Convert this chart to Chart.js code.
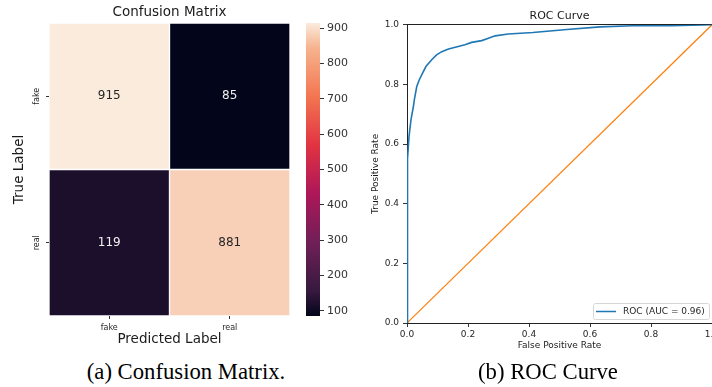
<!DOCTYPE html>
<html>
<head>
<meta charset="utf-8">
<script src="https://cdn.jsdelivr.net/npm/chart.js@4/dist/chart.umd.min.js"></script>
<style>
html,body{margin:0;padding:0;overflow:hidden;background:#fff;width:712px;height:387px;}
canvas{position:absolute;}
.cap{position:absolute;top:358px;font-family:'Liberation Serif','DejaVu Serif',serif;font-size:22.7px;color:#000;white-space:nowrap;transform:translateX(-50%);line-height:28px;}
</style>
</head>
<body>
<canvas id="cm" width="300" height="350" style="left:0;top:0;"></canvas>
<canvas id="cb" width="70" height="350" style="left:300px;top:0;"></canvas>
<canvas id="roc" width="372" height="355" style="left:360px;top:0;"></canvas>
<div class="cap" style="left:186px;">(a) Confusion Matrix.</div>
<div class="cap" style="left:548px;">(b) ROC Curve</div>
<script>
// ---------- data ----------
const cmLabels = ['fake', 'real'];          // predicted (x) and true (y) classes
const cmRowFake = [915, 85];                // true = fake
const cmRowReal = [119, 881];               // true = real
const cbTicks = [100, 200, 300, 400, 500, 600, 700, 800, 900];
const rocFpr = [0, 0, 0.002, 0.003, 0.0066, 0.013, 0.021, 0.024, 0.032, 0.040, 0.051, 0.062, 0.081, 0.097, 0.114, 0.136, 0.168, 0.19, 0.212, 0.245, 0.267, 0.289, 0.332, 0.413, 0.524, 0.633, 0.74, 0.868, 1.0];
const rocTpr = [0, 0.25, 0.37, 0.55, 0.625, 0.681, 0.726, 0.748, 0.793, 0.815, 0.838, 0.860, 0.883, 0.899, 0.910, 0.919, 0.927, 0.933, 0.941, 0.947, 0.955, 0.963, 0.969, 0.974, 0.984, 0.993, 0.997, 0.997, 1.0];
const diagFpr = [0, 1];
const diagTpr = [0, 1];
const rocLabel = 'ROC (AUC = 0.96)';
const xTicksRoc = [0, 0.2, 0.4, 0.6, 0.8, 1.0];

Chart.defaults.font.family = "'DejaVu Sans', sans-serif";

// rocket colormap
const rocketStops = [
  [0.000, [3, 5, 26]],
  [0.083, [53, 25, 62]],
  [0.250, [112, 31, 87]],
  [0.417, [173, 23, 89]],
  [0.583, [225, 51, 66]],
  [0.750, [243, 118, 81]],
  [0.917, [246, 180, 143]],
  [1.000, [250, 235, 221]]
];
function rocketRGB(t) {
  t = Math.max(0, Math.min(1, t));
  for (let i = 1; i < rocketStops.length; i++) {
    const [t1, c1] = rocketStops[i];
    const [t0, c0] = rocketStops[i - 1];
    if (t <= t1) {
      const f = (t - t0) / (t1 - t0);
      return c0.map((v, k) => Math.round(v + (c1[k] - v) * f));
    }
  }
  return rocketStops[rocketStops.length - 1][1];
}
const allVals = cmRowFake.concat(cmRowReal);
const vMin = Math.min(...allVals), vMax = Math.max(...allVals);
function cellColor(v) { const c = rocketRGB((v - vMin) / (vMax - vMin)); return `rgb(${c[0]},${c[1]},${c[2]})`; }
function textColor(v) { const c = rocketRGB((v - vMin) / (vMax - vMin)); const l = 0.2126*c[0]+0.7152*c[1]+0.0722*c[2]; return l > 128 ? '#262626' : '#f0f0f0'; }

// ---------- confusion matrix ----------
const cellText = {
  id: 'cellText',
  afterDatasetsDraw(chart) {
    const ctx = chart.ctx;
    ctx.save();
    ctx.font = "12px 'DejaVu Sans'";
    ctx.textAlign = 'center';
    ctx.textBaseline = 'middle';
    chart.data.datasets.forEach((ds, di) => {
      chart.getDatasetMeta(di).data.forEach((el, i) => {
        const v = ds.values[i];
        ctx.fillStyle = textColor(v);
        ctx.fillText(String(v), el.x, (el.y + el.base) / 2);
      });
    });
    // rotated y tick labels
    const ys = chart.scales.y;
    ctx.font = "8px 'DejaVu Sans'";
    ctx.fillStyle = '#262626';
    [[1.5, cmLabels[0]], [0.5, cmLabels[1]]].forEach(([v, lab]) => {
      ctx.save();
      ctx.translate(37, ys.getPixelForValue(v));
      ctx.rotate(-Math.PI / 2);
      ctx.fillText(lab, 0, 0);
      ctx.restore();
    });
    ctx.restore();
  }
};

new Chart(document.getElementById('cm'), {
  type: 'bar',
  data: {
    labels: cmLabels,
    datasets: [
      { label: 'real', data: cmRowReal.map(() => 1), values: cmRowReal, backgroundColor: cmRowReal.map(cellColor), stack: 's' },
      { label: 'fake', data: cmRowFake.map(() => 1), values: cmRowFake, backgroundColor: cmRowFake.map(cellColor), stack: 's' }
    ]
  },
  options: {
    responsive: false, animation: false, devicePixelRatio: 1,
    layout: { padding: { left: 0, right: 10, top: 0, bottom: 0 } },
    datasets: { bar: { barPercentage: 1, categoryPercentage: 1, borderColor: '#ffffff', borderWidth: 1, borderSkipped: false } },
    plugins: {
      legend: { display: false }, tooltip: { enabled: false },
      title: { display: true, text: 'Confusion Matrix', fullSize: false, color: '#1a1a1a', font: { size: 13.5, weight: 'normal' }, padding: { top: 4, bottom: 2.8 } }
    },
    scales: {
      x: {
        stacked: true,
        grid: { display: true, offset: false, drawOnChartArea: false, drawTicks: true, tickLength: 3, color: '#333' },
        border: { display: false },
        ticks: { font: { size: 8 }, color: '#262626', padding: 4 },
        title: { display: true, text: 'Predicted Label', color: '#1a1a1a', font: { size: 13.5 }, padding: { top: 0, bottom: 2 } },
        afterFit(s) { s.height = 34; s.paddingLeft = 0; s.paddingRight = 0; }
      },
      y: {
        stacked: true, min: 0, max: 2,
        afterBuildTicks(s) { s.ticks = [{ value: 0.5 }, { value: 1.5 }]; },
        grid: { display: true, drawOnChartArea: false, drawTicks: true, tickLength: 3, color: '#333' },
        border: { display: false },
        ticks: { display: false },
        title: { display: true, text: 'True Label', color: '#1a1a1a', font: { size: 13.5 }, padding: { top: 11.4, bottom: 0 } },
        afterFit(s) { s.width = 49; s.paddingTop = 0; s.paddingBottom = 0; }
      }
    }
  },
  plugins: [cellText]
});

// ---------- colorbar ----------
new Chart(document.getElementById('cb'), {
  type: 'bar',
  data: {
    labels: [''],
    datasets: [{
      data: [[vMin, vMax]],
      borderWidth: 0,
      backgroundColor(c) {
        const chart = c.chart;
        if (!chart.chartArea) return '#000';
        const y = chart.scales.y;
        const g = chart.ctx.createLinearGradient(0, y.getPixelForValue(vMin), 0, y.getPixelForValue(vMax));
        rocketStops.forEach(([t, col]) => g.addColorStop(t, `rgb(${col[0]},${col[1]},${col[2]})`));
        return g;
      }
    }]
  },
  options: {
    responsive: false, animation: false, devicePixelRatio: 1,
    layout: { padding: { left: 6, right: 0, top: 23, bottom: 34 } },
    datasets: { bar: { barPercentage: 1, categoryPercentage: 1 } },
    plugins: { legend: { display: false }, tooltip: { enabled: false } },
    scales: {
      x: { display: false },
      y: {
        position: 'right', min: vMin, max: vMax,
        afterBuildTicks(s) { s.ticks = cbTicks.map(v => ({ value: v })); },
        grid: { display: true, drawOnChartArea: false, drawTicks: true, tickLength: 4, color: '#333' },
        border: { display: false },
        ticks: { font: { size: 11 }, color: '#333', padding: 3 },
        afterFit(s) { s.width = 50; s.paddingTop = 0; s.paddingBottom = 0; }
      }
    }
  }
});

// ---------- ROC ----------
const rocLegend = {
  id: 'rocLegend',
  afterDraw(chart) {
    const ctx = chart.ctx, a = chart.chartArea;
    const ds = chart.data.datasets[0];
    const w = 116, h = 16;
    const x0 = a.right - 3 - w, y0 = a.bottom - 4 - h;
    ctx.save();
    ctx.beginPath();
    if (ctx.roundRect) ctx.roundRect(x0 + 0.5, y0 + 0.5, w, h, 2); else ctx.rect(x0 + 0.5, y0 + 0.5, w, h);
    ctx.fillStyle = 'rgba(255,255,255,0.8)';
    ctx.fill();
    ctx.strokeStyle = '#d6d6d6';
    ctx.lineWidth = 1;
    ctx.stroke();
    ctx.beginPath();
    ctx.moveTo(x0 + 3, y0 + h / 2 + 0.5);
    ctx.lineTo(x0 + 23, y0 + h / 2 + 0.5);
    ctx.strokeStyle = ds.borderColor;
    ctx.lineWidth = 1.5;
    ctx.stroke();
    ctx.font = "9px 'DejaVu Sans'";
    ctx.fillStyle = '#262626';
    ctx.textAlign = 'left';
    ctx.textBaseline = 'middle';
    ctx.fillText(ds.label, x0 + 30, y0 + h / 2 + 0.5);
    ctx.restore();
  }
};

new Chart(document.getElementById('roc'), {
  type: 'scatter',
  data: {
    datasets: [
      { label: rocLabel, data: rocFpr.map((x, i) => ({ x, y: rocTpr[i] })), showLine: true, borderColor: '#1f77b4', borderWidth: 1.6, pointRadius: 0, fill: false, tension: 0 },
      { label: '', data: diagFpr.map((x, i) => ({ x, y: diagTpr[i] })), showLine: true, borderColor: '#ff7f0e', borderWidth: 1.2, pointRadius: 0, fill: false }
    ]
  },
  options: {
    responsive: false, animation: false, devicePixelRatio: 1,
    layout: { padding: { left: 0, right: 20, top: 0, bottom: 0 } },
    plugins: {
      legend: { display: false }, tooltip: { enabled: false },
      title: { display: true, text: 'ROC Curve', fullSize: false, color: '#1a1a1a', font: { size: 11, weight: 'normal' }, padding: { top: 9.4, bottom: 2.2 } }
    },
    scales: {
      x: {
        type: 'linear', min: 0, max: 1,
        afterBuildTicks(s) { s.ticks = xTicksRoc.map(v => ({ value: v })); },
        ticks: { font: { size: 9 }, color: '#262626', padding: 2, callback: v => v.toFixed(1), maxRotation: 0 },
        grid: { drawOnChartArea: false, drawTicks: true, tickLength: 4, color: '#333' },
        border: { color: '#222', width: 1 },
        title: { display: true, text: 'False Positive Rate', color: '#1a1a1a', font: { size: 9 }, padding: { top: 0, bottom: 3.6 } },
        afterFit(s) { s.height = 32; s.paddingLeft = 0; s.paddingRight = 0; }
      },
      y: {
        type: 'linear', min: 0, max: 1,
        afterBuildTicks(s) { s.ticks = xTicksRoc.map(v => ({ value: v })); },
        ticks: { font: { size: 9 }, color: '#262626', padding: 4, callback: v => v.toFixed(1) },
        grid: { drawOnChartArea: false, drawTicks: true, tickLength: 4, color: '#333' },
        border: { color: '#222', width: 1 },
        title: { display: true, text: 'True Positive Rate', color: '#1a1a1a', font: { size: 9 }, padding: { top: 10.6, bottom: 0 } },
        afterFit(s) { s.width = 47; s.paddingTop = 0; s.paddingBottom = 0; }
      },
      x2: {
        type: 'linear', position: 'top', min: 0, max: 1,
        ticks: { display: false }, grid: { display: false },
        border: { color: '#222', width: 1 },
        afterFit(s) { s.height = 0; s.paddingLeft = 0; s.paddingRight = 0; }
      },
      y2: {
        type: 'linear', position: 'right', min: 0, max: 1,
        ticks: { display: false }, grid: { display: false },
        border: { color: '#222', width: 1 },
        afterFit(s) { s.width = 0; s.paddingTop = 0; s.paddingBottom = 0; }
      }
    }
  },
  plugins: [rocLegend]
});
</script>
</body>
</html>
